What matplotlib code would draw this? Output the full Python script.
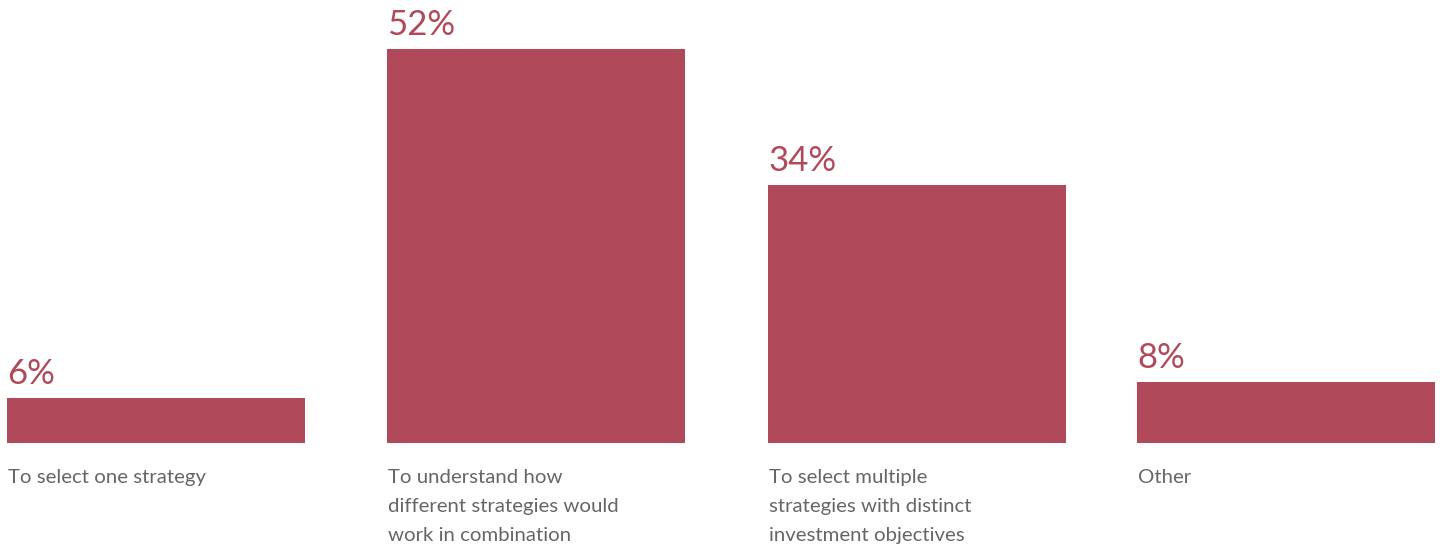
import matplotlib.pyplot as plt

plt.rcParams['font.family'] = ['Lato', 'DejaVu Sans']

categories = ['To select one strategy',
              'To understand how\ndifferent strategies would\nwork in combination',
              'To select multiple\nstrategies with distinct\ninvestment objectives',
              'Other']
values = [6, 52, 34, 8]
labels = ['6%', '52%', '34%', '8%']

bar_color = '#b04a5a'
text_color = '#666666'

# layout in pixel units
lefts = [7, 387, 768, 1137]
width = 298
px_per_pct = 7.58
base_px = 102

fig = plt.figure(figsize=(14.44, 5.45), dpi=100)
ax = fig.add_axes([0, 0, 1, 1])
ax.set_xlim(0, 1444)
ax.set_ylim(-base_px / px_per_pct, (545 - base_px) / px_per_pct)
ax.axis('off')

ax.bar(lefts, values, width=width, align='edge', color=bar_color)

for x, v, lab, cat in zip(lefts, values, labels, categories):
    ax.annotate(lab, (x, v), xytext=(0, 10), textcoords='offset points',
                ha='left', va='baseline', fontsize=25, color=bar_color)
    ax.annotate(cat, (x + 1, 0), xytext=(0, -18.5), textcoords='offset points',
                ha='left', va='top', fontsize=14.7, color=text_color,
                linespacing=1.86)

fig.savefig('out.png', dpi=100)
